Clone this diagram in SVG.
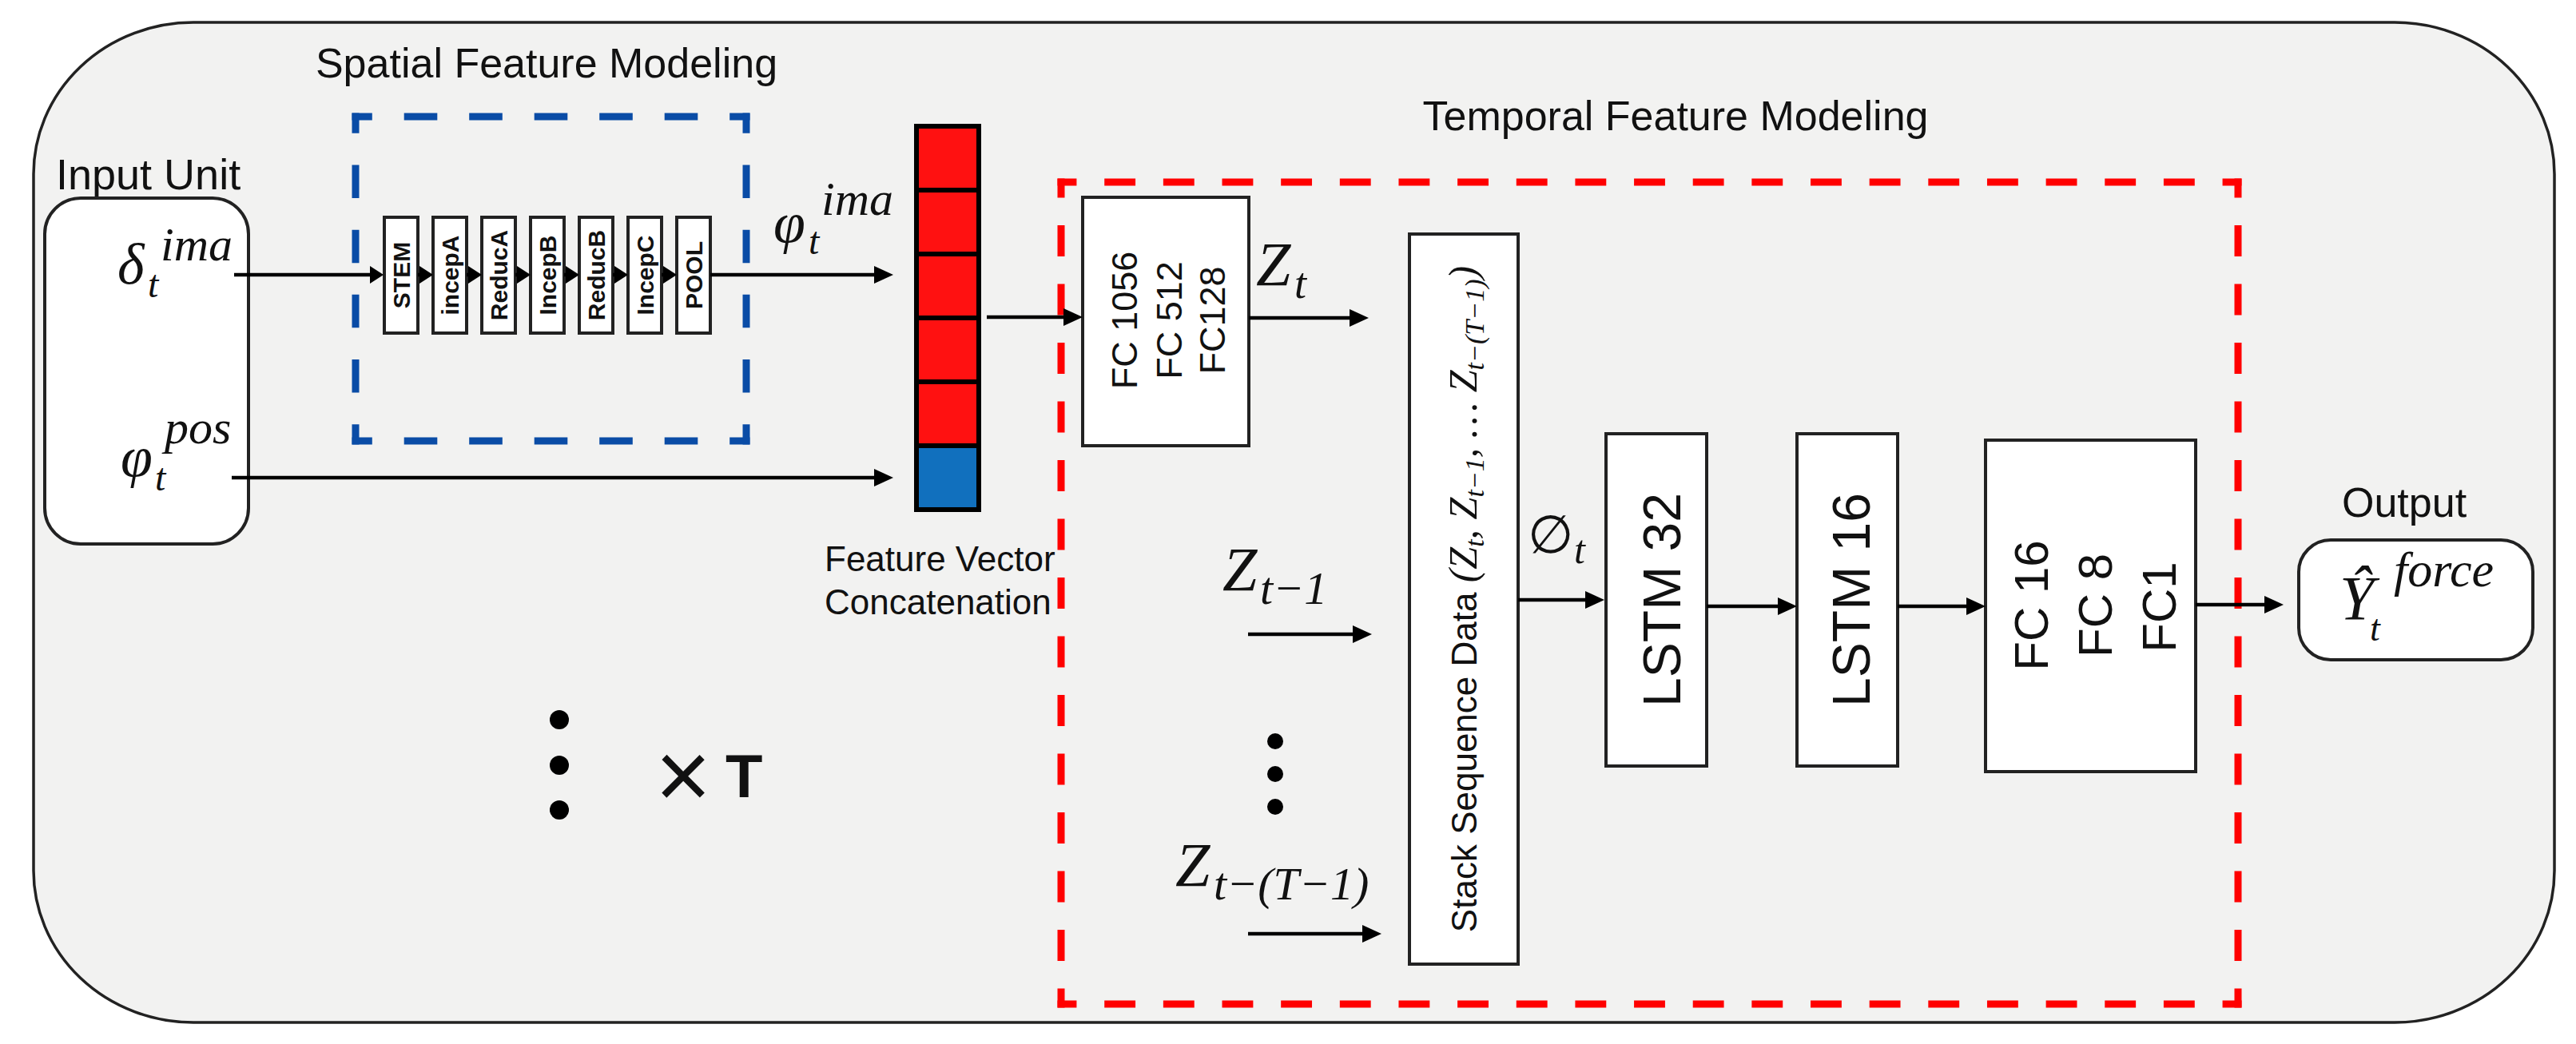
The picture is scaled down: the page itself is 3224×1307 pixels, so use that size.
<svg xmlns="http://www.w3.org/2000/svg" width="3224" height="1307" viewBox="0 0 3224 1307">
<defs>
<style>
.sans{font-family:"Liberation Sans",Arial,sans-serif;fill:#111}
.bold{font-weight:bold}
.mi{font-family:"Liberation Serif","DejaVu Serif",serif;font-style:italic;fill:#111}
.box{fill:#fff;stroke:#222;stroke-width:4}
.conn{stroke:#000;stroke-width:4.5;fill:none}
.blue{fill:none;stroke:#0A4CA6;stroke-width:9;stroke-dasharray:32 48;stroke-dashoffset:16;stroke-linecap:square}
.red{fill:none;stroke:#FF0000;stroke-width:9;stroke-dasharray:30 44;stroke-dashoffset:15;stroke-linecap:square}
.cellr{fill:#FF1111;stroke:#000;stroke-width:6}
.cellb{fill:#1170BE;stroke:#000;stroke-width:6}
</style>
<marker id="ah" markerUnits="userSpaceOnUse" markerWidth="24" markerHeight="22" refX="0" refY="11" orient="auto"><path d="M0,0 L24,11 L0,22 z" fill="#000"/></marker>
<marker id="ahs" markerUnits="userSpaceOnUse" markerWidth="17" markerHeight="22" refX="0" refY="11" orient="auto"><path d="M0,0 L17,11 L0,22 z" fill="#000"/></marker>
</defs>
<rect x="0" y="0" width="3224" height="1307" fill="#fff"/>
<rect id="frame" x="42" y="28" width="3155" height="1252" rx="200" ry="190" fill="#F2F2F1" stroke="#222" stroke-width="3.5"/>

<g id="spatial-group">
<text class="sans" x="684" y="97" font-size="52" text-anchor="middle">Spatial Feature Modeling</text>
<path class="blue" d="M445,146 H934" pathLength="480"/>
<path class="blue" d="M934,146 V552" pathLength="400"/>
<path class="blue" d="M934,552 H445" pathLength="480"/>
<path class="blue" d="M445,552 V146" pathLength="400"/>
</g>

<g id="temporal-group">
<text class="sans" x="2097" y="163" font-size="52" text-anchor="middle">Temporal Feature Modeling</text>
<path class="red" d="M1328,228 H2801" pathLength="1480"/>
<path class="red" d="M2801,228 V1257" pathLength="1036"/>
<path class="red" d="M2801,1257 H1328" pathLength="1480"/>
<path class="red" d="M1328,1257 V228" pathLength="1036"/>
</g>

<g id="input-unit">
<text class="sans" x="70" y="237" font-size="54">Input Unit</text>
<rect x="56" y="248" width="255" height="433" rx="45" fill="#fff" stroke="#222" stroke-width="4"/>
<text class="mi" x="147" y="355" font-size="72">δ</text>
<text class="mi" x="185" y="372" font-size="48">t</text>
<text class="mi" x="201" y="326" font-size="60">ima</text>
<text class="mi" x="151" y="596" font-size="72">φ</text>
<text class="mi" x="194" y="614" font-size="48">t</text>
<text class="mi" x="206" y="555" font-size="60">pos</text>
</g>

<g id="inception">
<g id="stem"><rect class="box" x="481" y="272" width="42" height="145"/><text class="sans bold" font-size="30" text-anchor="middle" transform="translate(513,344.5) rotate(-90)">STEM</text></g>
<g id="incepA"><rect class="box" x="542" y="272" width="42" height="145"/><text class="sans bold" font-size="30" text-anchor="middle" transform="translate(574,344.5) rotate(-90)">incepA</text></g>
<g id="reducA"><rect class="box" x="603" y="272" width="42" height="145"/><text class="sans bold" font-size="30" text-anchor="middle" transform="translate(635,344.5) rotate(-90)">ReducA</text></g>
<g id="incepB"><rect class="box" x="664" y="272" width="42" height="145"/><text class="sans bold" font-size="30" text-anchor="middle" transform="translate(696,344.5) rotate(-90)">IncepB</text></g>
<g id="reducB"><rect class="box" x="725" y="272" width="42" height="145"/><text class="sans bold" font-size="30" text-anchor="middle" transform="translate(757,344.5) rotate(-90)">ReducB</text></g>
<g id="incepC"><rect class="box" x="786" y="272" width="42" height="145"/><text class="sans bold" font-size="30" text-anchor="middle" transform="translate(818,344.5) rotate(-90)">IncepC</text></g>
<g id="pool"><rect class="box" x="847" y="272" width="42" height="145"/><text class="sans bold" font-size="30" text-anchor="middle" transform="translate(879,344.5) rotate(-90)">POOL</text></g>
</g>

<g id="phi-ima-label">
<text class="mi" x="968" y="303" font-size="72">φ</text>
<text class="mi" x="1012" y="318" font-size="48">t</text>
<text class="mi" x="1028" y="269" font-size="60">ima</text>
</g>

<g id="feature-vector">
<rect class="cellr" x="1147" y="158" width="78" height="80"/>
<rect class="cellr" x="1147" y="238" width="78" height="80"/>
<rect class="cellr" x="1147" y="318" width="78" height="80"/>
<rect class="cellr" x="1147" y="398" width="78" height="80"/>
<rect class="cellr" x="1147" y="478" width="78" height="80"/>
<rect class="cellb" x="1147" y="558" width="78" height="80"/>
<text class="sans" x="1032" y="715" font-size="44">Feature Vector</text>
<text class="sans" x="1032" y="769" font-size="44">Concatenation</text>
</g>

<g id="fc-encoder">
<rect class="box" x="1355" y="247" width="208" height="311"/>
<text class="sans" font-size="45" text-anchor="middle" transform="translate(1423,401) rotate(-90)">FC 1056</text>
<text class="sans" font-size="45" text-anchor="middle" transform="translate(1479,401) rotate(-90)">FC 512</text>
<text class="sans" font-size="45" text-anchor="middle" transform="translate(1533,401) rotate(-90)">FC128</text>
</g>

<g id="z-labels">
<text class="mi" x="1572" y="357" font-size="78">Z<tspan x="1620" y="373" font-size="54">t</tspan></text>
<text class="mi" x="1530" y="739" font-size="78">Z<tspan x="1577" y="756" font-size="58">t−1</tspan></text>
<text class="mi" x="1471" y="1109" font-size="78">Z<tspan x="1519" y="1126" font-size="58">t−(T−1)</tspan></text>
<circle cx="1596" cy="928" r="10" fill="#000"/>
<circle cx="1596" cy="969" r="10" fill="#000"/>
<circle cx="1596" cy="1010" r="10" fill="#000"/>
</g>

<g id="stack">
<rect class="box" x="1764" y="293" width="136" height="914"/>
<text class="sans" font-size="44" text-anchor="middle" transform="translate(1848,750) rotate(-90)">Stack Sequence Data <tspan class="mi" font-size="50">(Z</tspan><tspan class="mi" font-size="34" dy="9">t</tspan><tspan class="mi" font-size="50" dy="-9">,  Z</tspan><tspan class="mi" font-size="34" dy="9">t−1</tspan><tspan class="mi" font-size="50" dy="-9">, … Z</tspan><tspan class="mi" font-size="34" dy="9">t−(T−1)</tspan><tspan class="mi" font-size="50" dy="-9">)</tspan></text>
</g>

<g id="phi-label">
<text x="1912" y="692" font-size="66" style="font-family:'DejaVu Sans',sans-serif;fill:#111">∅</text>
<text class="mi" x="1970" y="705" font-size="50">t</text>
</g>

<g id="lstm32">
<rect class="box" x="2010" y="543" width="126" height="416"/>
<text class="sans" font-size="66" text-anchor="middle" transform="translate(2103,751) rotate(-90)">LSTM 32</text>
</g>
<g id="lstm16">
<rect class="box" x="2249" y="543" width="126" height="416"/>
<text class="sans" font-size="66" text-anchor="middle" transform="translate(2340,751) rotate(-90)">LSTM 16</text>
</g>
<g id="fc-head">
<rect class="box" x="2485" y="551" width="263" height="415"/>
<text class="sans" font-size="60" text-anchor="middle" transform="translate(2563,758) rotate(-90)">FC 16</text>
<text class="sans" font-size="60" text-anchor="middle" transform="translate(2643,758) rotate(-90)">FC 8</text>
<text class="sans" font-size="60" text-anchor="middle" transform="translate(2723,760) rotate(-90)">FC1</text>
</g>

<g id="output">
<text class="sans" x="2931" y="647" font-size="52">Output</text>
<rect x="2877" y="676" width="293" height="150" rx="40" fill="#fff" stroke="#222" stroke-width="4"/>
<text class="mi" x="2928" y="775" font-size="78">Ŷ</text>
<text class="mi" x="2966" y="802" font-size="46">t</text>
<text class="mi" x="2996" y="734" font-size="62">force</text>
</g>

<g id="repeat">
<circle cx="700" cy="901" r="12" fill="#000"/>
<circle cx="700" cy="958" r="12" fill="#000"/>
<circle cx="700" cy="1014" r="12" fill="#000"/>
<text class="sans" x="820" y="1012" font-size="120">×</text>
<text class="sans bold" x="908" y="998" font-size="76">T</text>
</g>

<g id="connectors">
<path class="conn" d="M293,344 H463" marker-end="url(#ahs)"/>
<path class="conn" d="M523,344 H525" marker-end="url(#ahs)"/>
<path class="conn" d="M584,344 H586" marker-end="url(#ahs)"/>
<path class="conn" d="M645,344 H647" marker-end="url(#ahs)"/>
<path class="conn" d="M706,344 H708" marker-end="url(#ahs)"/>
<path class="conn" d="M767,344 H769" marker-end="url(#ahs)"/>
<path class="conn" d="M828,344 H830" marker-end="url(#ahs)"/>
<path class="conn" d="M889,344 H1094" marker-end="url(#ah)"/>
<path class="conn" d="M290,598 H1094" marker-end="url(#ah)"/>
<path class="conn" d="M1235,397 H1331" marker-end="url(#ah)"/>
<path class="conn" d="M1563,398 H1689" marker-end="url(#ah)"/>
<path class="conn" d="M1562,794 H1693" marker-end="url(#ah)"/>
<path class="conn" d="M1562,1169 H1705" marker-end="url(#ah)"/>
<path class="conn" d="M1900,751 H1984" marker-end="url(#ah)"/>
<path class="conn" d="M2136,759 H2225" marker-end="url(#ah)"/>
<path class="conn" d="M2375,759 H2461" marker-end="url(#ah)"/>
<path class="conn" d="M2748,757 H2834" stroke-width="6" marker-end="url(#ah)"/>
</g>
</svg>
